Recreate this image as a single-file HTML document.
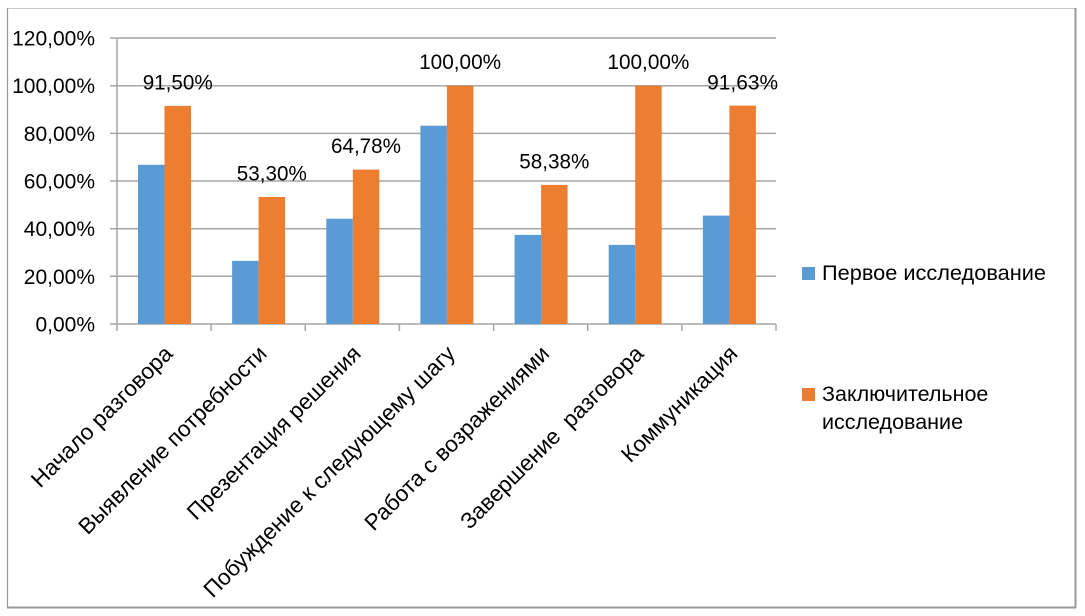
<!DOCTYPE html>
<html><head><meta charset="utf-8"><style>
html,body{margin:0;padding:0;background:#fff;}
svg{display:block;}
text{font-family:"Liberation Sans","DejaVu Sans",sans-serif;fill:#000;}
</style></head><body>
<svg width="1085" height="616" viewBox="0 0 1085 616" xmlns="http://www.w3.org/2000/svg">
<rect x="0" y="0" width="1085" height="616" fill="#fff"/>
<!-- frame -->
<line x1="7" y1="8.5" x2="1075" y2="8.5" stroke="#c8c8c8" stroke-width="1"/>
<line x1="7.5" y1="8" x2="7.5" y2="607" stroke="#9a9a9a" stroke-width="1.2"/>
<line x1="1075.5" y1="8" x2="1075.5" y2="608" stroke="#999" stroke-width="2"/>
<line x1="7" y1="607.5" x2="1076" y2="607.5" stroke="#999" stroke-width="2"/>
<!-- gridlines -->
<g stroke="#a6a6a6" stroke-width="1.5">
<line x1="110" y1="38" x2="776" y2="38"/>
<line x1="110" y1="85.7" x2="776" y2="85.7"/>
<line x1="110" y1="133.4" x2="776" y2="133.4"/>
<line x1="110" y1="181" x2="776" y2="181"/>
<line x1="110" y1="228.7" x2="776" y2="228.7"/>
<line x1="110" y1="276.3" x2="776" y2="276.3"/>
<line x1="110" y1="324" x2="776" y2="324"/>
<line x1="117" y1="38" x2="117" y2="331"/>
<line x1="211.1" y1="324" x2="211.1" y2="331"/>
<line x1="305.3" y1="324" x2="305.3" y2="331"/>
<line x1="399.4" y1="324" x2="399.4" y2="331"/>
<line x1="493.6" y1="324" x2="493.6" y2="331"/>
<line x1="587.7" y1="324" x2="587.7" y2="331"/>
<line x1="681.9" y1="324" x2="681.9" y2="331"/>
<line x1="776" y1="324" x2="776" y2="331"/>
</g>
<!-- y labels -->
<g font-size="21" text-anchor="end">
<text x="95" y="45.5">120,00%</text>
<text x="95" y="93.2">100,00%</text>
<text x="95" y="140.9">80,00%</text>
<text x="95" y="188.5">60,00%</text>
<text x="95" y="236.2">40,00%</text>
<text x="95" y="283.8">20,00%</text>
<text x="95" y="331.5">0,00%</text>
</g>
<!-- bars: blue -->
<g fill="#5B9BD5">
<rect x="138" y="164.8" width="26.5" height="159.2"/>
<rect x="232.1" y="260.9" width="26.5" height="63.1"/>
<rect x="326.3" y="218.7" width="26.5" height="105.3"/>
<rect x="420.4" y="125.7" width="26.5" height="198.3"/>
<rect x="514.6" y="234.9" width="26.5" height="89.1"/>
<rect x="608.7" y="244.9" width="26.5" height="79.1"/>
<rect x="702.9" y="215.6" width="26.5" height="108.4"/>
</g>
<g fill="#ED7D31">
<rect x="164.5" y="105.9" width="26.5" height="218.1"/>
<rect x="258.6" y="197" width="26.5" height="127"/>
<rect x="352.8" y="169.6" width="26.5" height="154.4"/>
<rect x="446.9" y="85.7" width="26.5" height="238.3"/>
<rect x="541.1" y="184.9" width="26.5" height="139.1"/>
<rect x="635.2" y="85.7" width="26.5" height="238.3"/>
<rect x="729.4" y="105.6" width="26.5" height="218.4"/>
</g>
<!-- data labels -->
<g font-size="21" text-anchor="middle">
<text x="177.7" y="89.5" textLength="70" lengthAdjust="spacingAndGlyphs">91,50%</text>
<text x="271.8" y="180.5" textLength="70" lengthAdjust="spacingAndGlyphs">53,30%</text>
<text x="366" y="153" textLength="70" lengthAdjust="spacingAndGlyphs">64,78%</text>
<text x="460.1" y="69" textLength="82" lengthAdjust="spacingAndGlyphs">100,00%</text>
<text x="554.3" y="168.5" textLength="70" lengthAdjust="spacingAndGlyphs">58,38%</text>
<text x="648.4" y="69" textLength="82" lengthAdjust="spacingAndGlyphs">100,00%</text>
<text x="742.6" y="89.5" textLength="71" lengthAdjust="spacingAndGlyphs">91,63%</text>
</g>
<!-- x labels -->
<g font-size="22.5" text-anchor="end">
<text transform="translate(174,355) rotate(-45)">Начало разговора</text>
<text transform="translate(268.2,355) rotate(-45)">Выявление потребности</text>
<text transform="translate(362.3,355) rotate(-45)">Презентация решения</text>
<text transform="translate(456.5,355) rotate(-45)">Побуждение к следующему шагу</text>
<text transform="translate(550.6,355) rotate(-45)">Работа с возражениями</text>
<text transform="translate(644.8,355) rotate(-45)" xml:space="preserve">Завершение  разговора</text>
<text transform="translate(738.9,355) rotate(-45)">Коммуникация</text>
</g>
<!-- legend -->
<rect x="802" y="267" width="13" height="13" fill="#5B9BD5"/>
<text x="822" y="280" font-size="21.5" textLength="224" lengthAdjust="spacingAndGlyphs">Первое исследование</text>
<rect x="802" y="388" width="13" height="13" fill="#ED7D31"/>
<text x="822" y="401" font-size="21.5">Заключительное</text>
<text x="822" y="429" font-size="21.5">исследование</text>
</svg>
</body></html>
